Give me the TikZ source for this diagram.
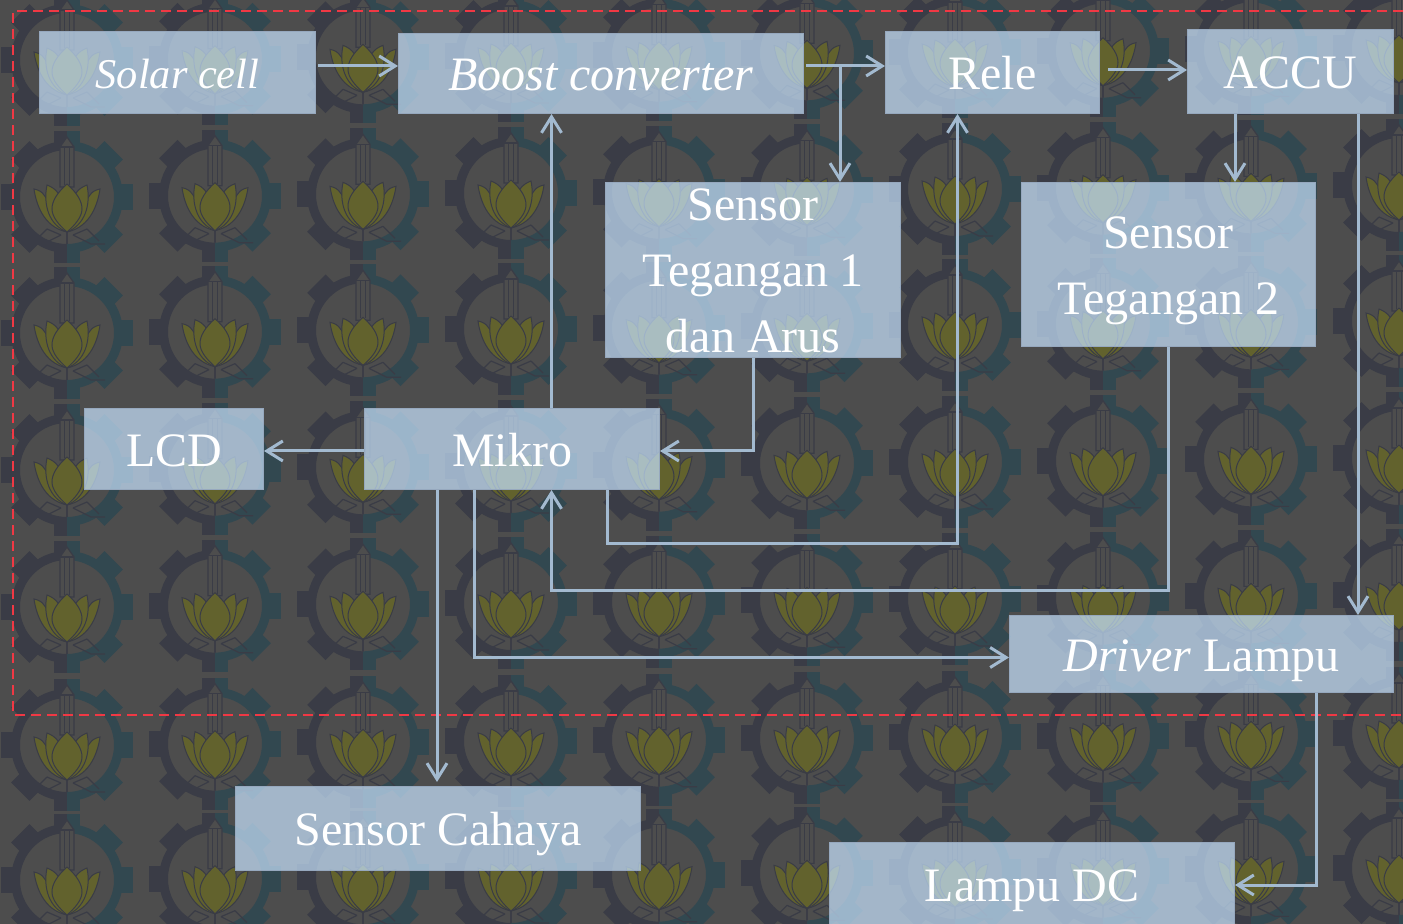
\documentclass[tikz,border=0pt]{standalone}
\usepackage{fontspec}
\setmainfont{Liberation Serif}
\usetikzlibrary{arrows.meta,positioning,calc}
\definecolor{bgdark}{RGB}{77,77,77}
\definecolor{gearleft}{RGB}{58,60,70}
\definecolor{gearright}{RGB}{50,72,80}
\definecolor{lotus}{RGB}{98,98,45}
\definecolor{boxfill}{RGB}{200,228,255}
\definecolor{boxline}{RGB}{150,168,190}
\definecolor{wire}{RGB}{163,186,208}
\definecolor{dashred}{RGB}{240,56,68}
\tikzset{
  block/.style={fill=boxfill,fill opacity=0.7,draw=boxline,line width=0.5pt,text=white,text opacity=1,
    inner sep=0pt,align=center,font=\fontsize{24}{33}\selectfont},
  wireline/.style={draw=wire,line width=1.5pt,-{Straight Barb[length=8pt,width=10pt,line width=1.5pt]}},
}
\newcommand{\dropped}[2]{\raisebox{-#1}[\height][\depth]{#2}}
\newcommand{\gearshape}{%
  \fill[even odd rule] (0,0) circle (56) (0,0) circle (47);
  \foreach \a in {0,45,...,315}
    \fill[rotate=\a] (-13,-66) rectangle (13,-53);
}
\newcommand{\itslogo}[2]{%
  \begin{scope}[shift={(#1,#2)}]
  \begin{scope}
    \clip (-70,-70) rectangle (0,70);
    \begin{scope}[gearleft] \gearshape \end{scope}
  \end{scope}
  \begin{scope}
    \clip (0,-70) rectangle (70,70);
    \begin{scope}[gearright] \gearshape \end{scope}
  \end{scope}
  % tower
  \filldraw[fill=bgdark,draw=gearleft,line width=0.6pt] (-7,-10) -- (-7,-50) -- (0,-60) -- (7,-50) -- (7,-10) -- cycle;
  \draw[gearleft,line width=0.6pt] (-7,-50) -- (7,-50) (-2.5,-50) -- (-2.5,-12) (2.5,-50) -- (2.5,-12);
  % lotus
  \foreach \s in {-1,1} {
    \filldraw[fill=lotus,draw=gearleft,line width=0.5pt,xscale=\s] (0,35) .. controls (24,30) and (31,6) .. (33,-8) .. controls (28,-7) and (25,-5) .. (23,-2) -- (0,30) -- cycle;
    \filldraw[fill=lotus,draw=gearleft,line width=0.5pt,xscale=\s] (0,35) .. controls (18,28) and (24,8) .. (20,-12) .. controls (15,-10) and (12,-8) .. (9,-4) -- (0,30) -- cycle;
    \draw[gearleft,line width=0.6pt,xscale=\s] (0,35) -- (0,47) (6,38) -- (20,32) (6,38) -- (24,47) -- (38,47) (20,32) -- (32,44);
  }
  \filldraw[fill=lotus,draw=gearleft,line width=0.5pt] (0,-13) .. controls (10,-4) and (15,4) .. (15,12) .. controls (15,20) and (8,28) .. (0,35) .. controls (-8,28) and (-15,20) .. (-15,12) .. controls (-15,4) and (-10,-4) .. (0,-13);
  \end{scope}
}
\begin{document}
\begin{tikzpicture}[x=0.5pt,y=-0.5pt]
\useasboundingbox (0,0) rectangle (1403,924);
\fill[bgdark] (0,0) rectangle (1403,924);
% logo pattern
\foreach \y in {60,197,333,470,607,745,880}
  \foreach \i in {0,...,9} {
    \pgfmathsetmacro{\lx}{67+148*\i}
    \pgfmathsetmacro{\ly}{\y-1.33*\i}
    \itslogo{\lx}{\ly}
  }
\draw[dashred,line width=0.8pt,dash pattern=on 5pt off 3pt] (1403,11) -- (13,11) -- (13,715) -- (1403,715);
% blocks
\node[block,minimum width=138pt,minimum height=41pt] (solar) at (177.5,72.5) {\fontsize{21.2}{26}\selectfont\dropped{1pt}{\textit{Solar cell}}};
\node[block,minimum width=202.5pt,minimum height=40pt] (boost) at (601,73.5) {\dropped{1pt}{\textit{Boost converter}}};
\node[block,minimum width=107pt,minimum height=41pt] (rele) at (992.5,72.5) {\dropped{0.5pt}{Rele}};
\node[block,minimum width=103pt,minimum height=42pt] (accu) at (1290.5,71.5) {\dropped{0.5pt}{ACCU}};
\node[block,minimum width=147.5pt,minimum height=87.5pt] (senA) at (753,270) {\dropped{0.5pt}{Sensor}\\\dropped{0.5pt}{Tegangan 1}\\\dropped{0.5pt}{dan Arus}};
\node[block,minimum width=147pt,minimum height=82pt] (senB) at (1168.5,264.5) {\dropped{3pt}{Sensor}\\\dropped{3pt}{Tegangan 2}};
\node[block,minimum width=89.5pt,minimum height=40.5pt] (lcd) at (174,449) {\dropped{1pt}{LCD}};
\node[block,minimum width=147.5pt,minimum height=40.5pt] (mikro) at (512,449) {\dropped{0.5pt}{Mikro}};
\node[block,minimum width=192pt,minimum height=38.5pt] (driver) at (1201.5,654) {\dropped{3.5pt}{\textit{Driver} Lampu}};
\node[block,minimum width=202.5pt,minimum height=42pt] (cahaya) at (438,828.5) {\dropped{3pt}{Sensor Cahaya}};
\node[block,minimum width=202.5pt,minimum height=43pt] (lampu) at (1032,885) {\dropped{3pt}{Lampu DC}};
% helper coordinates
\coordinate (rowA) at (0,66);
\coordinate (rowB) at (0,70);
\coordinate (rowC) at (0,544);
\coordinate (rowD) at (0,590.5);
\coordinate (rowE) at (0,657.5);
\coordinate (rowF) at (0,451);
\coordinate (colA) at (840,0);
\coordinate (colB) at (1235,0);
\coordinate (colC) at (1358,0);
\coordinate (colD) at (551.5,0);
\coordinate (colE) at (607.5,0);
\coordinate (colF) at (957.5,0);
\coordinate (colG) at (474,0);
\coordinate (colH) at (437,0);
\coordinate (colI) at (1316,0);
\coordinate (split) at (colA |- rowA);
% connectors
\draw[wireline,shorten <=1pt] (solar.east |- rowA) -- (boost.west |- rowA);
\draw[wireline,shorten <=1pt] (boost.east |- rowA) -- (rele.west |- rowA);
\draw[wireline] (split) -- (senA.north -| split);
\draw[wireline,shorten <=4pt] (rele.east |- rowB) -- (accu.west |- rowB);
\draw[wireline] (accu.south -| colB) -- (senB.north -| colB);
\draw[wireline] (accu.south -| colC) -- (driver.north -| colC);
\draw[wireline] (senA.south) |- (mikro.east |- rowF);
\draw[wireline] (mikro.west |- rowF) -- (lcd.east |- rowF);
\draw[wireline] (mikro.north -| colD) -- (boost.south -| colD);
\draw[wireline] (mikro.south -| colE) |- (colF |- rowC) -- (rele.south -| colF);
\draw[wireline] (senB.south) |- (colD |- rowD) -- (mikro.south -| colD);
\draw[wireline] (mikro.south -| colG) |- (driver.west |- rowE);
\draw[wireline,shorten >=2pt] (mikro.south -| colH) -- (cahaya.north -| colH);
\draw[wireline] (driver.south -| colI) |- (lampu.east);
\end{tikzpicture}
\end{document}
